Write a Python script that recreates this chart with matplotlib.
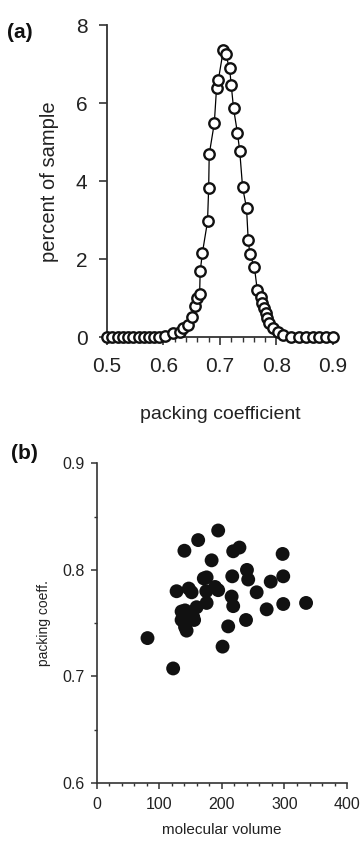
import numpy as np
import matplotlib
matplotlib.use("Agg")
import matplotlib.pyplot as plt
from matplotlib.ticker import MultipleLocator, FormatStrFormatter

plt.rcParams['font.family'] = ['Liberation Sans', 'DejaVu Sans']

# panel (a): distribution of packing coefficients
coef = [0.500, 0.509, 0.519, 0.528, 0.537, 0.547, 0.556, 0.565, 0.575, 0.584, 0.593, 0.603,
        0.617, 0.630, 0.635, 0.644, 0.651, 0.655, 0.660, 0.664, 0.665, 0.669, 0.678, 0.680,
        0.681, 0.690, 0.694, 0.697, 0.706, 0.710, 0.717, 0.720, 0.724, 0.731, 0.735, 0.740,
        0.747, 0.750, 0.753, 0.761, 0.766, 0.772, 0.775, 0.778, 0.781, 0.784, 0.787, 0.793,
        0.802, 0.811, 0.826, 0.840, 0.852, 0.864, 0.876, 0.888, 0.900]
percent = [0, 0, 0, 0, 0, 0, 0, 0, 0, 0, 0, 0.03,
           0.10, 0.13, 0.23, 0.31, 0.52, 0.80, 1.00, 1.10, 1.69, 2.17, 2.97, 3.82,
           4.69, 5.49, 6.40, 6.59, 7.36, 7.25, 6.90, 6.46, 5.87, 5.23, 4.77, 3.85,
           3.31, 2.49, 2.13, 1.79, 1.21, 1.03, 0.87, 0.74, 0.62, 0.49, 0.36, 0.23,
           0.14, 0.05, 0.01, 0, 0, 0, 0, 0, 0]

# panel (b): packing coefficient vs molecular volume
volume = [194, 162, 140, 183.5, 218, 228, 297, 240, 216.5, 242, 255.5, 278, 298, 127.5,
          147, 171, 194, 175.5, 215.5, 218, 271.5, 298, 334.5, 238.5, 210, 135.5, 155.5,
          141, 81, 143.5, 201, 122, 189, 175.5, 151.5, 141, 159.5, 154, 135.5, 175]
pack = [0.837, 0.828, 0.818, 0.809, 0.8175, 0.821, 0.815, 0.800, 0.794, 0.791, 0.779, 0.789,
        0.794, 0.780, 0.7825, 0.792, 0.781, 0.769, 0.775, 0.766, 0.763, 0.768, 0.769, 0.753,
        0.747, 0.761, 0.753, 0.7465, 0.736, 0.743, 0.728, 0.7075, 0.784, 0.793, 0.779, 0.762,
        0.765, 0.756, 0.753, 0.780]

txt = '#222222'
fig = plt.figure(figsize=(3.6, 8.41), dpi=100)

ax1 = fig.add_axes([0.297, 0.599, 0.628, 0.371])
ax1.plot(coef, percent, '-o', color='black', lw=0.9, mfc='white', mec='#111111',
         mew=1.7, ms=7.5, clip_on=False, zorder=3)
ax1.set_xlim(0.5, 0.9)
ax1.set_ylim(0, 8)
ax1.xaxis.set_major_locator(MultipleLocator(0.1))
ax1.xaxis.set_minor_locator(MultipleLocator(0.02))
ax1.xaxis.set_major_formatter(FormatStrFormatter('%.1f'))
ax1.yaxis.set_major_locator(MultipleLocator(2))
for s in ['top', 'right']:
    ax1.spines[s].set_visible(False)
for s in ['left', 'bottom']:
    ax1.spines[s].set_linewidth(1.3)
    ax1.spines[s].set_color('#333333')
ax1.tick_params(which='major', length=6, width=1.2, colors='#333333', labelcolor=txt,
                labelsize=15, pad=8)
ax1.tick_params(which='minor', length=3.5, width=1.0, colors='#333333')
ax1.set_ylabel('percent of sample', fontsize=14.5, color=txt, labelpad=12)
ax1.set_xlabel('packing coefficient', fontsize=14, color=txt, labelpad=22)
fig.text(0.02, 0.955, '(a)', fontsize=15, fontweight='bold', color='#111111')

ax2 = fig.add_axes([0.269, 0.069, 0.695, 0.380])
ax2.scatter(volume, pack, s=100, color='#111111', edgecolors='none', zorder=3)
ax2.set_xlim(0, 400)
ax2.set_ylim(0.6, 0.9)
ax2.xaxis.set_major_locator(MultipleLocator(100))
ax2.xaxis.set_minor_locator(MultipleLocator(20))
ax2.yaxis.set_major_locator(MultipleLocator(0.1))
ax2.yaxis.set_minor_locator(MultipleLocator(0.05))
ax2.yaxis.set_major_formatter(FormatStrFormatter('%.1f'))
for s in ['top', 'right']:
    ax2.spines[s].set_visible(False)
for s in ['left', 'bottom']:
    ax2.spines[s].set_linewidth(1.2)
    ax2.spines[s].set_color('#333333')
ax2.tick_params(which='major', length=4, width=1.1, colors='#333333', labelcolor=txt,
                labelsize=11.5, pad=5)
ax2.tick_params(axis='x', which='major', pad=6)
ax2.tick_params(which='minor', length=2.5, width=1.0, colors='#333333')
ax2.set_ylabel('packing coeff.', fontsize=10, color=txt, labelpad=8)
ax2.set_xlabel('molecular volume', fontsize=11, color=txt, labelpad=8)
fig.text(0.03, 0.454, '(b)', fontsize=15, fontweight='bold', color='#111111')

fig.savefig('out.png', dpi=100)
